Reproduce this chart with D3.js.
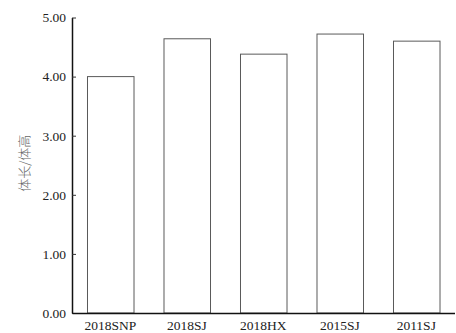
<!DOCTYPE html>
<html>
<head>
<meta charset="utf-8">
<script src="https://cdn.jsdelivr.net/npm/d3@7"></script>
<style>
  html, body { margin: 0; padding: 0; background: #fff; }
  svg { display: block; }
</style>
</head>
<body>
<script>
// Body length / body height ratio by sample group
const categories = ["2018SNP", "2018SJ", "2018HX", "2015SJ", "2011SJ"];
const values = [4.00, 4.64, 4.38, 4.72, 4.60];
const yTicks = [0, 1, 2, 3, 4, 5];
const yLabel = "体长/体高";

const width = 456, height = 333;
const margin = { top: 17.5, right: 1.5, bottom: 20, left: 72 };

const svg = d3.select("body").append("svg")
  .attr("width", width)
  .attr("height", height);

const x = d3.scaleBand()
  .domain(categories)
  .range([margin.left, width - margin.right])
  .paddingInner(0.392)
  .paddingOuter(0.196);

const y = d3.scaleLinear()
  .domain([0, 5])
  .range([height - margin.bottom, margin.top]);

// Bars: white fill, thin gray outline
svg.append("g")
  .selectAll("rect")
  .data(categories)
  .join("rect")
  .attr("x", d => x(d) + 0.5)
  .attr("y", (d, i) => y(values[i]))
  .attr("width", x.bandwidth())
  .attr("height", (d, i) => y(0) - y(values[i]))
  .attr("fill", "#fff")
  .attr("stroke", "#5a5a5a")
  .attr("stroke-width", 1);

const serif = "'Liberation Serif', 'Times New Roman', serif";

// Y axis with inward ticks
const yAxis = svg.append("g")
  .attr("transform", `translate(${margin.left},0)`)
  .call(d3.axisLeft(y)
    .tickValues(yTicks)
    .tickFormat(d3.format(".2f"))
    .tickSize(-4)
    .tickSizeOuter(0)
    .tickPadding(6));
yAxis.select(".domain").attr("stroke", "#111").attr("stroke-width", 1.5);
yAxis.selectAll(".tick line").attr("stroke", "#333");
yAxis.selectAll(".tick text")
  .attr("font-family", serif)
  .attr("font-size", 13.5)
  .attr("fill", "#222");

// X axis: baseline with category labels, no tick marks
const xAxis = svg.append("g")
  .attr("transform", `translate(0,${y(0)})`)
  .call(d3.axisBottom(x).tickSize(0).tickSizeOuter(0).tickPadding(7));
xAxis.select(".domain").attr("stroke", "#111").attr("stroke-width", 1.5);
xAxis.selectAll(".tick text")
  .attr("font-family", serif)
  .attr("font-size", 13.5)
  .attr("fill", "#222");

// Y axis title
svg.append("text")
  .attr("transform", `translate(23,${(margin.top + y(0)) / 2 - 2}) rotate(-90)`)
  .attr("text-anchor", "middle")
  .attr("dominant-baseline", "central")
  .attr("font-family", "'Noto Sans CJK SC', sans-serif")
  .attr("font-size", 13)
  .attr("font-weight", 300)
  .attr("fill", "#666")
  .text(yLabel);
</script>
</body>
</html>
